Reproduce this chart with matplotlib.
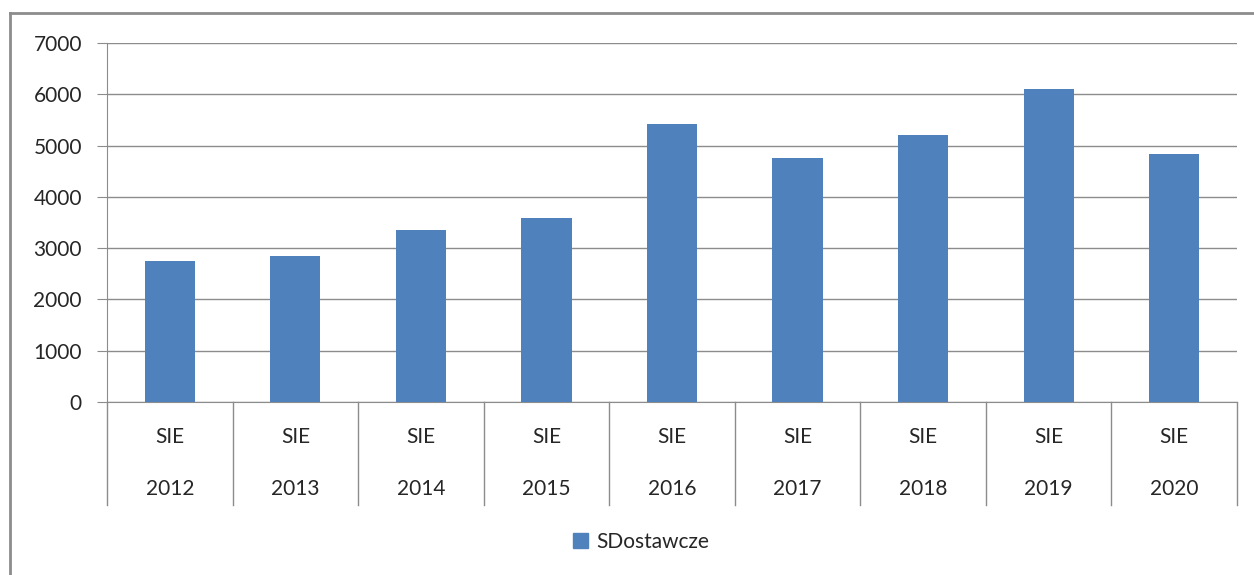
import matplotlib.pyplot as plt
from matplotlib.lines import Line2D
from matplotlib.transforms import blended_transform_factory
from matplotlib.patches import Patch

plt.rcParams['font.family'] = ['Lato', 'DejaVu Sans']

# Data
years = ['2012', '2013', '2014', '2015', '2016', '2017', '2018', '2019', '2020']
groups = ['SIE'] * 9
values = [2750, 2850, 3350, 3580, 5420, 4750, 5200, 6100, 4830]
series_name = 'SDostawcze'

bar_color = '#4F81BD'
line_color = '#8C8C8C'
text_color = '#262626'
fs = 15

fig = plt.figure(figsize=(12.54, 5.75), dpi=100)
ax = fig.add_axes([107 / 1254, 1 - 402 / 575, 1130 / 1254, 359 / 575])

x = list(range(len(years)))
ax.bar(x, values, width=0.4, color=bar_color, zorder=3)

ax.set_xlim(-0.5, len(years) - 0.5)
ax.set_ylim(0, 7000)
ax.set_yticks(range(0, 7001, 1000))
ax.tick_params(axis='y', length=7, color=line_color, labelsize=fs,
               labelcolor=text_color, pad=11)
ax.set_xticks([])
ax.grid(axis='y', color=line_color, linewidth=1, zorder=0)

for s in ['top', 'right']:
    ax.spines[s].set_visible(False)
ax.spines['left'].set_color(line_color)
ax.spines['bottom'].set_color(line_color)
ax.spines['left'].set_bounds(0, 7000)

# two-level category axis
trans = blended_transform_factory(ax.transData, ax.transAxes)
depth = 103 / 359
for b in range(len(years) + 1):
    ax.add_line(Line2D([b - 0.5, b - 0.5], [0, -depth], transform=trans,
                       color=line_color, linewidth=1, clip_on=False))
for i in x:
    ax.text(i, -35 / 359, groups[i], transform=trans, ha='center', va='center',
            fontsize=fs, color=text_color)
    ax.text(i, -87 / 359, years[i], transform=trans, ha='center', va='center',
            fontsize=fs, color=text_color)

# legend
fig.legend(handles=[Patch(color=bar_color, label=series_name)],
           loc='center', bbox_to_anchor=(641 / 1254, 1 - 542 / 575),
           frameon=False, fontsize=fs, handlelength=0.7, handleheight=0.7,
           handletextpad=0.4, labelcolor=text_color)

# chart border (partly cropped)
fig.add_artist(Line2D([10 / 1254, 10 / 1254], [0, 1 - 13 / 575],
                      transform=fig.transFigure, color=line_color, linewidth=2))
fig.add_artist(Line2D([10 / 1254, 1], [1 - 13 / 575, 1 - 13 / 575],
                      transform=fig.transFigure, color=line_color, linewidth=2))

fig.savefig('out.png', dpi=100)
